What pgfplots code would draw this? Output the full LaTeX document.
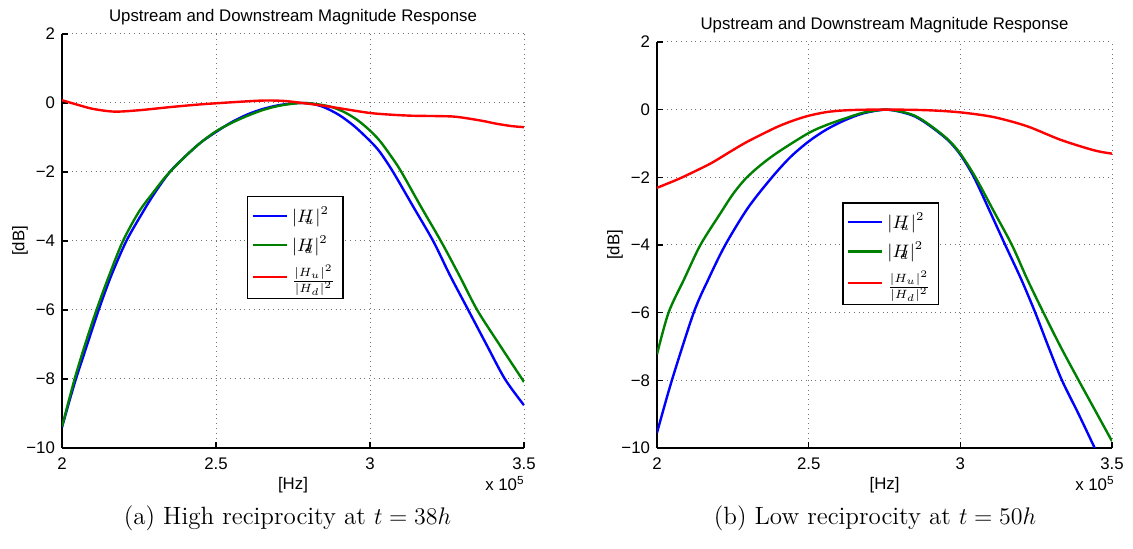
\documentclass[border=0pt]{standalone}
\usepackage{pgfplots}
\pgfplotsset{compat=1.18}
\usepackage{fontspec}
\newfontfamily\hv{Liberation Sans}
\definecolor{mblue}{RGB}{0,0,255}
\definecolor{mgreen}{RGB}{0,128,0}
\definecolor{mred}{RGB}{255,0,0}
\newcommand{\axfont}{\hv\fontsize{8.4}{10}\selectfont}
\pgfplotsset{
 mstyle/.style={
  scale only axis,
  xmin=2,xmax=3.5,ymin=-10,ymax=2,
  xtick={2,2.5,3,3.5}, xticklabels={2,2.5,3,3.5},
  ytick={-10,-8,-6,-4,-2,0,2}, yticklabels={−10,−8,−6,−4,−2,0,2},
  axis x line=bottom, axis y line=left,
  axis line style={-, line width=1pt, black},
  xtick pos=left, ytick pos=left,
  tick align=inside, major tick length=3pt, tick style={black, line width=0.6pt},
  grid=major, major grid style={dotted, black!55, line width=0.5pt},
  tick label style={font=\axfont},
  xticklabel style={yshift=-1.5pt},
  every axis title shift=0pt,
  title style={font=\axfont, at={(0.5,1)}, anchor=base, yshift=6pt},
  title={Upstream and Downstream Magnitude Response},
  xlabel={[Hz]}, ylabel={[dB]},
  xlabel style={font=\axfont, at={(rel axis cs:0.5,0)}, anchor=center, yshift=-18.5pt},
  ylabel style={font=\axfont, at={([xshift=-21pt]rel axis cs:0,0.5)}, anchor=center},
  legend style={font=\fontsize{9}{10.8}\selectfont, draw=black, line width=0.8pt, anchor=north west, cells={anchor=west}, row sep=1.5pt, inner ysep=3pt, inner xsep=2pt},
  legend image code/.code={\draw[##1,line width=1.2pt] (0pt,0pt) -- (17pt,0pt);},
  every axis plot/.append style={line width=1.2pt, smooth},
 }
}
\begin{document}
\begin{tikzpicture}
\useasboundingbox (0,0) rectangle (566.5pt,274.5pt);
\begin{axis}[mstyle, name=A, at={(31pt,50.5pt)}, anchor=south west, width=231pt, height=207pt,
  legend style={at={(0.40,0.609)}}]
\addplot[mblue] coordinates {(2.00,-9.40)(2.04,-8.15)(2.08,-7.05)(2.119,-6.0)(2.16,-5.0)(2.209,-4.0)(2.26,-3.2)(2.30,-2.62)(2.35,-2.0)(2.40,-1.55)(2.45,-1.15)(2.50,-0.84)(2.55,-0.56)(2.60,-0.34)(2.65,-0.18)(2.70,-0.07)(2.75,-0.01)(2.78,0.0)(2.81,-0.02)(2.85,-0.12)(2.90,-0.35)(2.95,-0.68)(3.00,-1.1)(3.032,-1.42)(3.075,-2.0)(3.14,-3.0)(3.205,-4.0)(3.26,-5.0)(3.319,-6.0)(3.378,-7.0)(3.438,-8.0)(3.5,-8.76)};
\addlegendentry{$|H\mkern-9mu{}_u\mkern1mu|^2$}
\addplot[mgreen] coordinates {(2.00,-9.38)(2.041,-8.0)(2.075,-7.0)(2.112,-6.0)(2.153,-5.0)(2.198,-4.0)(2.25,-3.15)(2.30,-2.55)(2.34,-2.1)(2.40,-1.55)(2.45,-1.15)(2.50,-0.82)(2.55,-0.58)(2.60,-0.38)(2.65,-0.21)(2.70,-0.09)(2.75,-0.02)(2.79,0.0)(2.84,-0.05)(2.88,-0.13)(2.92,-0.28)(2.96,-0.5)(3.00,-0.8)(3.032,-1.1)(3.065,-1.5)(3.10,-1.97)(3.165,-3.0)(3.23,-4.0)(3.29,-5.0)(3.348,-6.0)(3.42,-7.0)(3.49,-7.95)(3.5,-8.09)};
\addlegendentry{$|H\mkern-9mu{}_d\mkern1mu|^2$}
\addplot[mred] coordinates {(2.00,0.08)(2.05,-0.05)(2.10,-0.17)(2.17,-0.25)(2.25,-0.21)(2.35,-0.12)(2.45,-0.04)(2.55,0.02)(2.65,0.07)(2.72,0.06)(2.78,0.0)(2.85,-0.08)(2.92,-0.18)(3.00,-0.29)(3.07,-0.34)(3.14,-0.37)(3.22,-0.38)(3.28,-0.40)(3.36,-0.51)(3.41,-0.60)(3.46,-0.67)(3.50,-0.70)};
\addlegendentry{$\frac{|H_u|^2}{|H_d|^2}$}
\end{axis}
\node[anchor=north east, inner sep=0pt, font=\axfont, yshift=-14pt, xshift=0.5pt] at (A.south east) {x 10\textsuperscript{5}};
\begin{axis}[mstyle, name=B, at={(328.5pt,50.5pt)}, anchor=south west, width=227.5pt, height=203pt,
  legend style={at={(0.407,0.606)}}]
\addplot[mblue] coordinates {(2.00,-9.55)(2.049,-8.0)(2.121,-6.0)(2.17,-5.0)(2.225,-4.0)(2.30,-2.9)(2.379,-2.0)(2.44,-1.4)(2.50,-0.94)(2.56,-0.58)(2.62,-0.31)(2.68,-0.11)(2.75,0.0)(2.80,-0.06)(2.85,-0.2)(2.90,-0.48)(2.959,-0.9)(3.00,-1.33)(3.045,-2.0)(3.097,-3.0)(3.148,-4.0)(3.20,-5.0)(3.247,-6.0)(3.29,-7.0)(3.335,-8.0)(3.39,-9.0)(3.443,-10.0)(3.47,-10.5)};
\addlegendentry{$|H\mkern-9mu{}_u\mkern1mu|^2$}
\addplot[mgreen] coordinates {(2.00,-7.23)(2.038,-6.0)(2.09,-5.0)(2.143,-4.0)(2.21,-3.05)(2.25,-2.5)(2.291,-2.05)(2.34,-1.65)(2.40,-1.25)(2.50,-0.69)(2.56,-0.45)(2.62,-0.26)(2.68,-0.09)(2.75,0.0)(2.80,-0.05)(2.85,-0.18)(2.90,-0.46)(2.959,-0.88)(3.00,-1.30)(3.05,-2.0)(3.11,-3.0)(3.17,-4.0)(3.22,-5.0)(3.274,-6.0)(3.33,-7.0)(3.39,-8.0)(3.445,-8.9)(3.50,-9.8)};
\addlegendentry{$|H\mkern-9mu{}_d\mkern1mu|^2$}
\addplot[mred] coordinates {(2.00,-2.31)(2.071,-2.05)(2.13,-1.8)(2.181,-1.57)(2.24,-1.25)(2.291,-0.98)(2.35,-0.71)(2.401,-0.49)(2.45,-0.32)(2.50,-0.18)(2.56,-0.07)(2.621,-0.02)(2.70,0.0)(2.80,0.0)(2.90,-0.02)(3.00,-0.08)(3.11,-0.22)(3.22,-0.49)(3.33,-0.89)(3.44,-1.2)(3.50,-1.30)};
\addlegendentry{$\frac{|H_u|^2}{|H_d|^2}$}
\end{axis}
\node[anchor=north east, inner sep=0pt, font=\axfont, yshift=-14pt, xshift=1.5pt] at (B.south east) {x 10\textsuperscript{5}};
\node[font=\fontsize{12.5}{15}\selectfont] at (143.75pt,15.5pt) {(a) High reciprocity at $t=38h$};
\node[font=\fontsize{12.5}{15}\selectfont] at (437.5pt,15.5pt) {(b) Low reciprocity at $t=50h$};
\end{tikzpicture}
\end{document}
